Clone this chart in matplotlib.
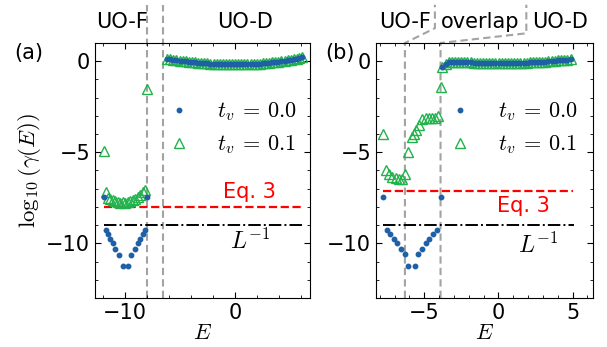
import matplotlib
matplotlib.use("Agg")
import matplotlib.pyplot as plt
import matplotlib.transforms as mtransforms
from matplotlib.ticker import MultipleLocator, AutoMinorLocator

# ---- panel (a) data ----
a_blue_x = [-11.91, -11.73, -11.52, -11.30, -11.09, -10.85, -10.50, -10.18,
            -9.73, -9.43, -9.03, -8.82, -8.60, -8.39, -8.21, -7.97]
a_blue_y = [-7.45, -9.25, -9.50, -9.75, -10.00, -10.30, -10.65, -11.25,
            -11.25, -10.65, -10.30, -10.00, -9.75, -9.50, -9.25, -7.45]
a_green_x = [-11.91, -11.73, -11.52, -11.30, -11.09, -10.85, -10.60, -10.39,
             -10.18, -9.94, -9.73, -9.48, -9.27, -9.03, -8.82, -8.60, -8.39,
             -8.21, -7.94]
a_green_y = [-4.93, -7.18, -7.51, -7.55, -7.60, -7.69, -7.73, -7.78, -7.71,
             -7.78, -7.71, -7.69, -7.64, -7.55, -7.45, -7.36, -7.18, -7.09,
             -1.50]
a_band_x = [-6.15, -5.87, -5.59, -5.31, -5.03, -4.75, -4.47, -4.19, -3.91,
            -3.63, -3.35, -3.07, -2.79, -2.51, -2.23, -1.95, -1.67, -1.39,
            -1.11, -0.83, -0.55, -0.27, 0.01, 0.29, 0.57, 0.85, 1.13, 1.41,
            1.69, 1.97, 2.25, 2.53, 2.81, 3.09, 3.37, 3.65, 3.93, 4.21, 4.49,
            4.77, 5.05, 5.33, 5.61, 5.84, 6.06]
a_band_y = [0.13, 0.10, 0.08, 0.05, 0.03, 0.01, -0.01, -0.03, -0.05, -0.07,
            -0.08, -0.10, -0.11, -0.12, -0.14, -0.15, -0.15, -0.16, -0.17,
            -0.17, -0.18, -0.18, -0.18, -0.18, -0.18, -0.17, -0.17, -0.16,
            -0.15, -0.14, -0.13, -0.12, -0.10, -0.09, -0.07, -0.05, -0.03,
            -0.01, 0.02, 0.04, 0.07, 0.10, 0.13, 0.17, 0.22]
a_eq3 = -8.0
a_edges = [-7.94, -6.52]

# ---- panel (b) data ----
b_blue_x = [-7.76, -7.53, -7.31, -7.04, -6.82, -6.57, -6.30, -6.08,
            -5.63, -5.40, -5.14, -4.89, -4.66, -4.40, -4.17, -3.90]
b_blue_y = [-7.45, -9.29, -9.50, -9.75, -9.98, -10.30, -10.60, -11.25,
            -11.25, -10.60, -10.30, -9.98, -9.75, -9.50, -9.25, -7.45]
b_green_x = [-7.76, -7.58, -7.35, -7.15, -6.93, -6.70, -6.52, -6.30, -6.08,
             -5.85, -5.68, -5.52, -5.34, -5.14, -4.91, -4.69, -4.47, -4.28,
             -4.06, -3.90]
b_green_y = [-3.97, -6.00, -6.20, -6.35, -6.40, -6.45, -6.45, -6.17, -4.98,
             -4.15, -3.97, -3.76, -3.52, -3.20, -3.13, -3.13, -3.13, -3.10,
             -3.03, -1.41]
b_band_x = [-3.77, -3.56, -3.35, -3.14, -2.93, -2.72, -2.51, -2.30, -2.09,
            -1.88, -1.67, -1.46, -1.25, -1.04, -0.83, -0.62, -0.41, -0.20,
            0.01, 0.22, 0.43, 0.64, 0.85, 1.06, 1.27, 1.48, 1.69, 1.90, 2.11,
            2.32, 2.53, 2.74, 2.95, 3.16, 3.37, 3.58, 3.79, 4.00, 4.21, 4.42,
            4.63, 4.90]
b_band_y = [-0.31, -0.13, -0.05, -0.03, -0.03, -0.04, -0.05, -0.06, -0.06,
            -0.07, -0.08, -0.08, -0.09, -0.09, -0.10, -0.10, -0.10, -0.11,
            -0.11, -0.11, -0.11, -0.11, -0.10, -0.10, -0.10, -0.09, -0.09,
            -0.08, -0.07, -0.06, -0.05, -0.04, -0.03, -0.02, -0.01, 0.01,
            0.02, 0.04, 0.05, 0.07, 0.09, 0.11]
b_eq3 = -7.1
b_edges = [-6.30, -3.90]

inv_L = -9.0
legend_labels = [r"$t_v \:=\: 0.0$", r"$t_v \:=\: 0.1$"]

BLUE = "#1f5fa6"
GREEN = "#22b24c"
GRAY = "#a3a3a3"

plt.rcParams["font.family"] = "DejaVu Sans"
plt.rcParams["font.size"] = 15
plt.rcParams["mathtext.fontset"] = "cm"
plt.rcParams["xtick.direction"] = "in"
plt.rcParams["ytick.direction"] = "in"
plt.rcParams["xtick.top"] = True
plt.rcParams["ytick.right"] = True
plt.rcParams["xtick.major.size"] = 4.5
plt.rcParams["ytick.major.size"] = 4.5
plt.rcParams["xtick.minor.size"] = 2.5
plt.rcParams["ytick.minor.size"] = 2.5
plt.rcParams["xtick.minor.visible"] = True
plt.rcParams["ytick.minor.visible"] = True

fig = plt.figure(figsize=(6.07, 3.47), dpi=100)
ax1 = fig.add_axes([0.1565, 0.1412, 0.3542, 0.7349])
ax2 = fig.add_axes([0.6194, 0.1412, 0.3570, 0.7349])


def draw_panel(ax, blue_x, blue_y, green_x, green_y, band_x, band_y, eq3):
    ax.plot(blue_x + band_x, blue_y + band_y, ls="none", marker="o", ms=3.2,
            color=BLUE, label=legend_labels[0], zorder=4)
    ax.plot(green_x + band_x, green_y + band_y, ls="none", marker="^", ms=6.5,
            mfc="none", mec=GREEN, mew=1.0, label=legend_labels[1], zorder=3)
    x0 = min(blue_x)
    x1 = max(band_x) + 0.1
    ax.plot([x0, x1], [eq3, eq3], color="red", ls="--", lw=1.6, zorder=2)
    ax.plot([x0, x1 + 0.1], [inv_L, inv_L], color="black", ls="-.", lw=1.4,
            zorder=2)
    ax.set_ylim(-13, 1)
    ax.yaxis.set_major_locator(MultipleLocator(5))
    ax.yaxis.set_minor_locator(MultipleLocator(1))
    ax.xaxis.set_minor_locator(AutoMinorLocator(5))
    ax.set_xlabel(r"$E$", labelpad=0, fontsize=16)
    ax.legend(frameon=False, loc="center left", bbox_to_anchor=(0.245, 0.665),
              borderaxespad=0, handletextpad=0.7, labelspacing=0.45,
              fontsize=16)


draw_panel(ax1, a_blue_x, a_blue_y, a_green_x, a_green_y, a_band_x, a_band_y, a_eq3)
draw_panel(ax2, b_blue_x, b_blue_y, b_green_x, b_green_y, b_band_x, b_band_y, b_eq3)

ax1.set_xlim(-12.7, 6.8)
ax1.xaxis.set_major_locator(MultipleLocator(10))
ax2.set_xlim(-8.25, 6.35)
ax2.xaxis.set_major_locator(MultipleLocator(5))

ax1.set_ylabel(r"$\log_{10}(\gamma(E))$", labelpad=2, fontsize=16.5)

ax1.text(1.3, -7.2, "Eq. 3", color="red", ha="center", va="center")
ax1.text(1.4, -9.9, r"$L^{-1}$", ha="center", va="center", fontsize=17)
ax2.text(1.67, -7.95, "Eq. 3", color="red", ha="center", va="center")
ax2.text(2.7, -10.1, r"$L^{-1}$", ha="center", va="center", fontsize=17)

# phase boundaries, extended above the axes
dash = dict(color=GRAY, ls=(0, (3.5, 2)), lw=1.5, clip_on=False, zorder=1)
tr1 = mtransforms.blended_transform_factory(ax1.transData, ax1.transAxes)
for xe in a_edges:
    ax1.plot([xe, xe], [0, 1.15], transform=tr1, **dash)

tr2 = mtransforms.blended_transform_factory(ax2.transData, ax2.transAxes)
ax2.plot([b_edges[0], b_edges[0], -4.28, -4.28], [0, 1.0, 1.058, 1.15],
         transform=tr2, **dash)
ax2.plot([b_edges[1], b_edges[1], 1.88, 1.88], [0, 1.0, 1.038, 1.15],
         transform=tr2, **dash)

# region labels and panel tags
for xp, txt in [(122, "UO-F"), (245, "UO-D"), (405, "UO-F"),
                (480, "overlap"), (560, "UO-D")]:
    fig.text(xp / 607, 1 - 22 / 347, txt, ha="center", va="center", fontsize=15)
fig.text(29 / 607, 1 - 53 / 347, "(a)", ha="center", va="center", fontsize=15)
fig.text(340 / 607, 1 - 53 / 347, "(b)", ha="center", va="center", fontsize=15)

fig.savefig("out.png", dpi=100)
